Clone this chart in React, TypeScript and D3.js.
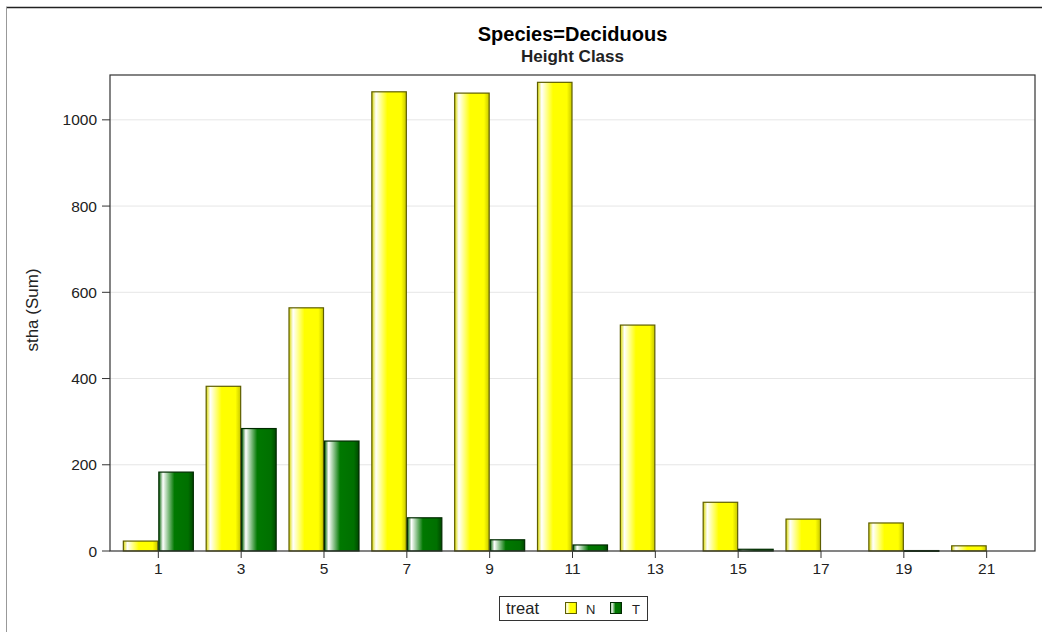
import React from "react";
import * as d3 from "d3";

const categories = ["1", "3", "5", "7", "9", "11", "13", "15", "17", "19", "21"];
const seriesN = [23, 382, 564, 1065, 1062, 1087, 524, 113, 74, 65, 12];
const seriesT = [183, 284, 255, 77, 26, 14, 0, 4, 0, 1, 0];
const yTicks = [0, 200, 400, 600, 800, 1000];
const groups = ["N", "T"];

const W = 1042, H = 632;
const L = 110, R = 1035, T = 75, B = 551;

export default function App() {
  const x = d3.scaleBand<string>().domain(categories).range([L, R]).paddingInner(0.143).paddingOuter(0.155);
  const xi = d3.scaleBand<string>().domain(groups).range([0, x.bandwidth()]);
  const y = d3.scaleLinear().domain([0, 1104]).range([B, T]);
  const font = "'Liberation Sans', Arial, sans-serif";
  const fills: Record<string, string> = { N: "url(#gN)", T: "url(#gT)" };
  const strokes: Record<string, string> = { N: "#5e5e00", T: "#002a00" };
  const series: Record<string, number[]> = { N: seriesN, T: seriesT };

  return (
    <svg width={W} height={H} style={{ position: "absolute", left: 0, top: 0, background: "#fff" }} fontFamily={font}>
      <defs>
        <linearGradient id="gN" x1="0" x2="1" y1="0" y2="0">
          <stop offset="0" stopColor="#d8d800" />
          <stop offset="0.12" stopColor="#ffffff" />
          <stop offset="0.45" stopColor="#ffff00" />
          <stop offset="0.85" stopColor="#ffff00" />
          <stop offset="1" stopColor="#c8c800" />
        </linearGradient>
        <linearGradient id="gT" x1="0" x2="1" y1="0" y2="0">
          <stop offset="0" stopColor="#006000" />
          <stop offset="0.12" stopColor="#ffffff" />
          <stop offset="0.45" stopColor="#007800" />
          <stop offset="0.85" stopColor="#007000" />
          <stop offset="1" stopColor="#004800" />
        </linearGradient>
      </defs>
      <rect x={0} y={0} width={W} height={H} fill="#fff" />
      <line x1={6} y1={7.5} x2={W} y2={7.5} stroke="#222" strokeWidth={1.5} />
      <line x1={6.5} y1={7} x2={6.5} y2={H} stroke="#999" strokeWidth={1} />

      <text x={(L + R) / 2} y={41} textAnchor="middle" fontWeight="bold" fontSize={20} fill="#000">Species=Deciduous</text>
      <text x={(L + R) / 2} y={62} textAnchor="middle" fontWeight="bold" fontSize={17} fill="#222">Height Class</text>

      {yTicks.map((t) => (
        <g key={t}>
          {t > 0 && <line x1={L} x2={R} y1={y(t)} y2={y(t)} stroke="#e6e6e6" strokeWidth={1} />}
          <line x1={L - 8} x2={L} y1={y(t)} y2={y(t)} stroke="#333" />
          <text x={L - 13} y={y(t) + 5.5} textAnchor="end" fontSize={15.5} fill="#222">{t}</text>
        </g>
      ))}

      {categories.map((c, i) => (
        <g key={c}>
          {groups.map((g) => {
            const v = series[g][i];
            if (v <= 0) return null;
            const x0 = (x(c) as number) + (xi(g) as number);
            const y0 = y(v);
            return (
              <rect key={g} x={x0 + 0.5} y={y0} width={xi.bandwidth() - 1} height={Math.max(B - y0, 0.8)}
                fill={fills[g]} stroke={strokes[g]} strokeWidth={1.2} />
            );
          })}
          <line x1={(x(c) as number) + x.bandwidth() / 2} x2={(x(c) as number) + x.bandwidth() / 2} y1={B} y2={B + 7} stroke="#333" />
          <text x={(x(c) as number) + x.bandwidth() / 2} y={B + 23} textAnchor="middle" fontSize={15.5} fill="#222">{c}</text>
        </g>
      ))}

      <rect x={L} y={T} width={R - L} height={B - T} fill="none" stroke="#333" strokeWidth={1.2} />

      <text transform={`translate(38,${(T + B) / 2 - 3}) rotate(-90)`} textAnchor="middle" fontSize={17} fill="#222">stha (Sum)</text>

      <g>
        <rect x={499.5} y={596.5} width={148} height={24} fill="#fff" stroke="#333" />
        <text x={506} y={614} fontSize={16.5} fill="#222">treat</text>
        <rect x={565.5} y={602.5} width={11} height={11} fill="url(#gN)" stroke={strokes.N} />
        <text x={586} y={614} fontSize={13} fill="#222">N</text>
        <rect x={610.5} y={602.5} width={11} height={11} fill="url(#gT)" stroke={strokes.T} />
        <text x={632} y={614} fontSize={13} fill="#222">T</text>
      </g>
    </svg>
  );
}
